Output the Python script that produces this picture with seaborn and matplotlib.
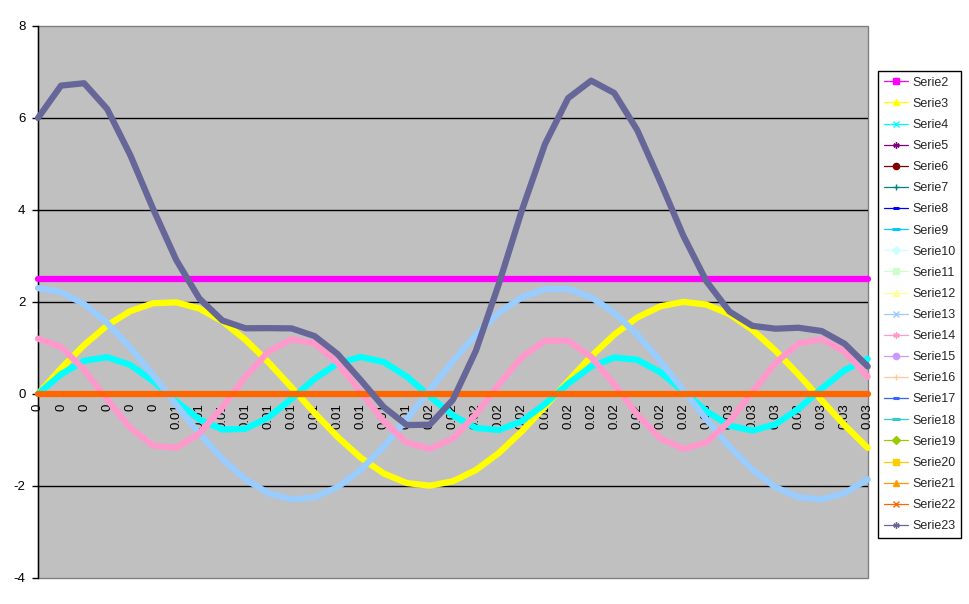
import matplotlib
matplotlib.use("Agg")
import matplotlib.pyplot as plt
import seaborn as sns
from matplotlib.lines import Line2D

sns.set_theme(style="white")
plt.rcParams['font.family'] = ['Liberation Sans', 'DejaVu Sans']

# ---------------- data ----------------
X_INDEX = list(range(37))
X_LABELS = ["0", "0", "0", "0", "0", "0",
            "0.01", "0.01", "0.01", "0.01", "0.01", "0.01", "0.01", "0.01", "0.01", "0.01", "0.01",
            "0.02", "0.02", "0.02", "0.02", "0.02", "0.02", "0.02", "0.02", "0.02", "0.02", "0.02", "0.02",
            "0.03", "0.03", "0.03", "0.03", "0.03", "0.03", "0.03", "0.03"]

SERIE2 = [2.5, 2.5, 2.5, 2.5, 2.5, 2.5, 2.5, 2.5, 2.5, 2.5, 2.5, 2.5, 2.5, 2.5, 2.5, 2.5, 2.5, 2.5, 2.5,
          2.5, 2.5, 2.5, 2.5, 2.5, 2.5, 2.5, 2.5, 2.5, 2.5, 2.5, 2.5, 2.5, 2.5, 2.5, 2.5, 2.5, 2.5]
SERIE3 = [0.0, 0.551, 1.060, 1.486, 1.798, 1.970, 1.989, 1.854, 1.576, 1.176, 0.684, 0.140, -0.416,
          -0.939, -1.389, -1.732, -1.941, -1.999, -1.902, -1.658, -1.286, -0.813, -0.278, 0.278, 0.813,
          1.286, 1.658, 1.902, 1.999, 1.941, 1.732, 1.389, 0.939, 0.416, -0.140, -0.684, -1.176]
SERIE4 = [0.0, 0.424, 0.719, 0.796, 0.630, 0.274, -0.166, -0.556, -0.776, -0.761, -0.514, -0.111, 0.325,
          0.663, 0.800, 0.693, 0.376, -0.056, -0.470, -0.742, -0.788, -0.594, -0.220, 0.220, 0.594,
          0.788, 0.742, 0.470, 0.056, -0.376, -0.693, -0.800, -0.663, -0.325, 0.111, 0.514, 0.761]
SERIE13 = [2.300, 2.211, 1.950, 1.539, 1.008, 0.399, -0.240, -0.862, -1.416, -1.861, -2.161, -2.294,
           -2.250, -2.031, -1.654, -1.150, -0.556, 0.080, 0.711, 1.286, 1.762, 2.101, 2.278, 2.278,
           2.101, 1.762, 1.286, 0.711, 0.080, -0.556, -1.150, -1.654, -2.031, -2.250, -2.294, -2.161, -1.861]
SERIE14 = [1.200, 1.018, 0.526, -0.125, -0.739, -1.128, -1.174, -0.863, -0.290, 0.371, 0.919, 1.188,
           1.096, 0.671, 0.042, -0.600, -1.059, -1.197, -0.971, -0.450, 0.208, 0.803, 1.154, 1.154,
           0.803, 0.208, -0.450, -0.971, -1.197, -1.059, -0.600, 0.042, 0.671, 1.096, 1.188, 0.919, 0.371]
SERIE_ZERO = [0, 0, 0, 0, 0, 0, 0, 0, 0, 0, 0, 0, 0, 0, 0, 0, 0, 0, 0,
              0, 0, 0, 0, 0, 0, 0, 0, 0, 0, 0, 0, 0, 0, 0, 0, 0, 0]
SERIE23 = [6.000, 6.704, 6.755, 6.196, 5.197, 4.015, 2.909, 2.073, 1.594, 1.425, 1.428, 1.423, 1.255,
           0.864, 0.299, -0.289, -0.680, -0.672, -0.132, 0.936, 2.396, 3.997, 5.434, 6.430, 6.811,
           6.544, 5.736, 4.612, 3.438, 2.450, 1.789, 1.477, 1.416, 1.437, 1.365, 1.088, 0.595]

SERIES_NAMES = ["Serie%d" % i for i in range(2, 24)]
SERIES_COLORS = ["#FF00FF", "#FFFF00", "#00FFFF", "#800080", "#800000", "#008080", "#0000FF",
                 "#00CCFF", "#CCFFFF", "#CCFFCC", "#FFFF99", "#99CCFF", "#FF99CC", "#CC99FF",
                 "#FFCC99", "#3366FF", "#33CCCC", "#99CC00", "#FFCC00", "#FF9900", "#FF6600", "#666699"]
# Serie2, Serie3, Serie4, Serie5..Serie12 (8), Serie13, Serie14, Serie15..Serie21 (7), Serie22, Serie23
SERIES_VALUES = ([SERIE2, SERIE3, SERIE4] + [SERIE_ZERO] * 8 + [SERIE13, SERIE14] +
                 [SERIE_ZERO] * 7 + [SERIE_ZERO, SERIE23])
THICK = {"Serie2", "Serie3", "Serie4", "Serie13", "Serie14", "Serie22", "Serie23"}

# legend markers (Excel default sequence)
MARKERS = ["s", "^", "x", (6, 2, 0), "o", "+", "short", "long",
           "D", "s", "^", "x", (6, 2, 0), "o", "+", "short", "long",
           "D", "s", "^", "x", (6, 2, 0)]

# ---------------- figure ----------------
fig = plt.figure(figsize=(9.70, 6.04), dpi=100)
fig.patch.set_facecolor("white")
ax = fig.add_axes([38 / 970, 26.3 / 604, 829.7 / 970, 551.7 / 604])
ax.set_facecolor("#C0C0C0")
ax.patch.set_edgecolor("#808080")
ax.patch.set_linewidth(1.0)

for i, (name, color, vals) in enumerate(zip(SERIES_NAMES, SERIES_COLORS, SERIES_VALUES)):
    lw = 4.5 if name in THICK else 0.8
    sns.lineplot(x=X_INDEX, y=vals, color=color, linewidth=lw, ax=ax, legend=False,
                 sort=False, estimator=None, zorder=3 + i * 0.01, clip_on=False,
                 solid_joinstyle="round")

# spines first (set_position resets ticks)
for s in ["top", "right"]:
    ax.spines[s].set_visible(False)
ax.spines["bottom"].set_position(("data", 0))
ax.spines["left"].set_color("black")
ax.spines["left"].set_linewidth(1.0)
ax.spines["bottom"].set_color("black")
ax.spines["bottom"].set_linewidth(1.0)

ax.set_xlim(0, 36)
ax.set_ylim(-4, 8)
ax.set_yticks([-4, -2, 0, 2, 4, 6, 8])
ax.set_yticklabels(["-4", "-2", "0", "2", "4", "6", "8"])
ax.set_xticks(X_INDEX)
ax.set_xticklabels(X_LABELS)
ax.set_xlabel("")
ax.set_ylabel("")

ax.tick_params(axis="x", length=0, pad=7, labelsize=9.5, colors="black", labelrotation=90)
ax.tick_params(axis="y", length=4, width=1, direction="out", pad=5, labelsize=9.5,
               colors="black", left=True)
for lab in ax.get_xticklabels():
    lab.set_verticalalignment("top")
    lab.set_horizontalalignment("center")

ax.set_axisbelow(True)
ax.yaxis.grid(True, color="black", linewidth=1.0)
ax.xaxis.grid(False)
glines = ax.get_ygridlines()
glines[0].set_visible(False)
glines[-1].set_visible(False)

# legend
handles = []
for name, color, m in zip(SERIES_NAMES, SERIES_COLORS, MARKERS):
    if m == "short":
        h = Line2D([0], [0], color=color, lw=0.9, marker="_", markersize=4, markeredgewidth=2.2)
    elif m == "long":
        h = Line2D([0], [0], color=color, lw=0.9, marker="_", markersize=6, markeredgewidth=2.2)
    elif m in ("x", "+") or isinstance(m, tuple):
        h = Line2D([0], [0], color=color, lw=0.9, marker=m, markersize=4.5, markeredgewidth=1.0,
                   markeredgecolor=color)
    else:
        h = Line2D([0], [0], color=color, lw=0.9, marker=m, markersize=4.5,
                   markerfacecolor=color, markeredgecolor=color)
    h.set_label(name)
    handles.append(h)

leg = fig.legend(handles=handles, loc="upper left", bbox_to_anchor=(878.5 / 970, 1 - 71 / 604),
                 bbox_transform=fig.transFigure, frameon=True, fancybox=False, shadow=False,
                 edgecolor="black", framealpha=1, facecolor="white", fontsize=9,
                 handlelength=1.95, handletextpad=0.3, labelspacing=0.73, borderpad=0.45,
                 borderaxespad=0)
leg.get_frame().set_linewidth(1.0)

fig.savefig("out.png", dpi=100, facecolor="white")
